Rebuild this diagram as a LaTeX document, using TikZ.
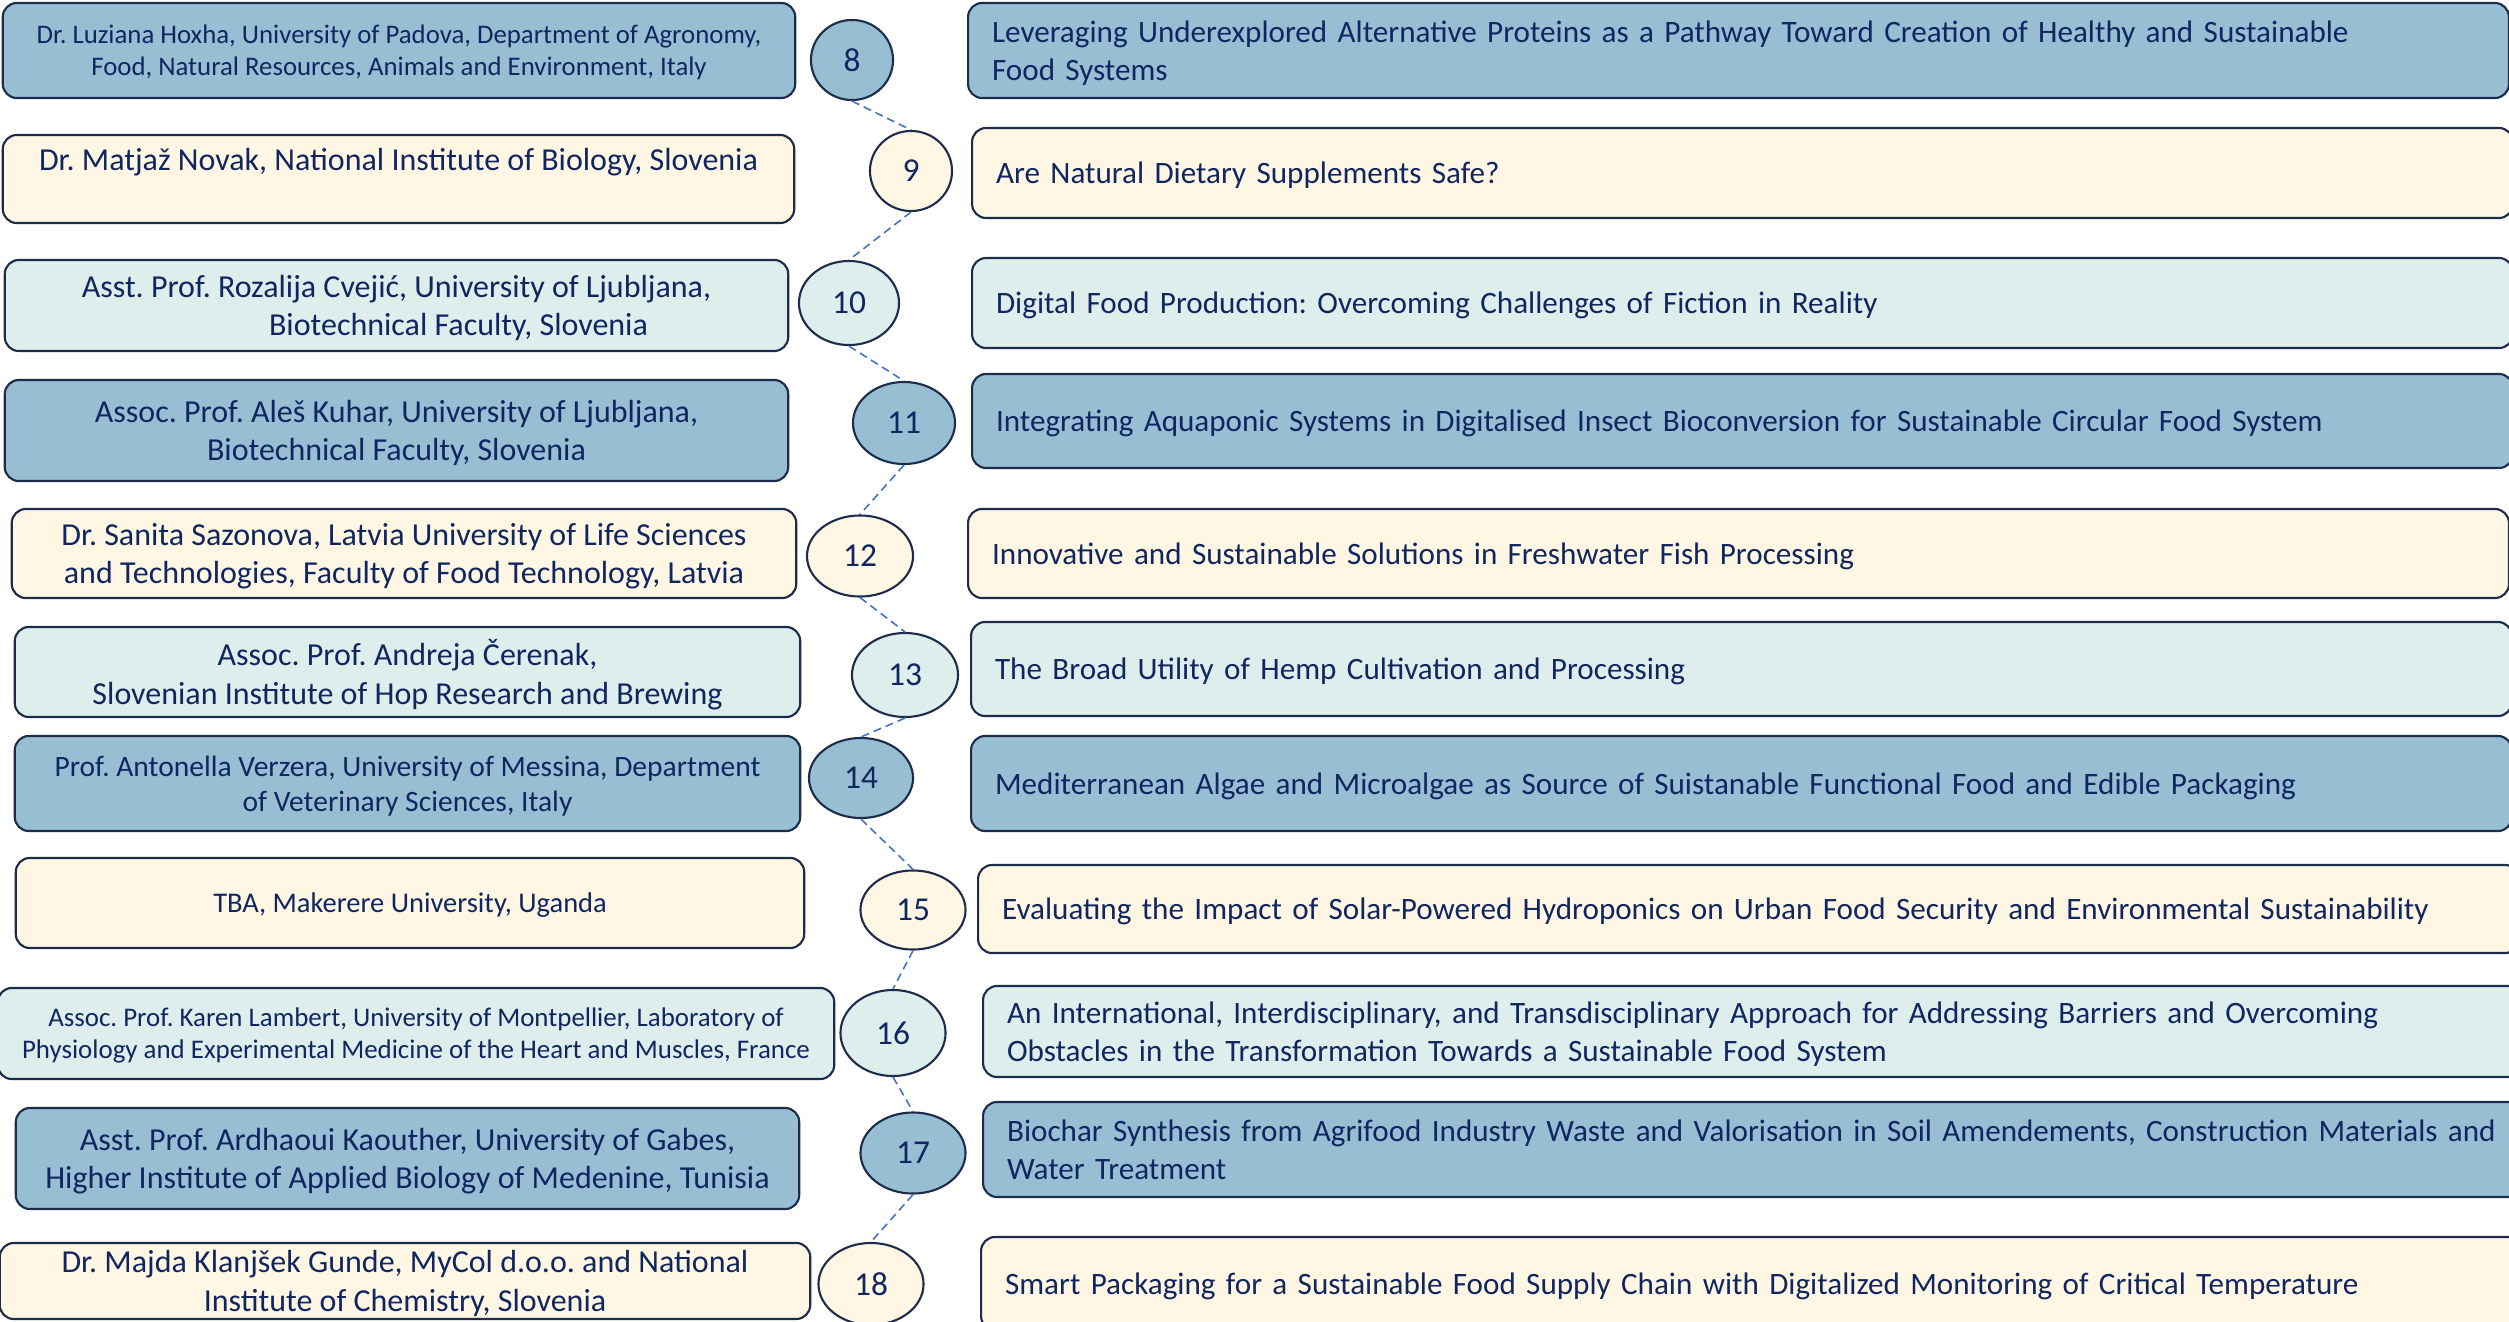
\documentclass[tikz,border=0pt]{standalone}
\usepackage{fontspec}
\setmainfont{Carlito}
\usetikzlibrary{shapes.geometric}
\frenchspacing

\definecolor{ink}{RGB}{16,38,96}
\definecolor{edge}{RGB}{30,44,76}
\definecolor{steel}{RGB}{151,190,211}
\definecolor{cream}{RGB}{255,247,228}
\definecolor{mint}{RGB}{222,238,236}
\definecolor{link}{RGB}{68,114,196}

\tikzset{
	wh/.style 2 args={minimum width=#1, minimum height=#2},
	speaker/.style={draw=edge, line width=0.6pt, rounded corners=4pt, text=ink, align=center, inner sep=0pt, text depth=0pt, font=\fontsize{9.1}{10.9}\selectfont},
	talk/.style={draw=edge, line width=0.6pt, rounded corners=4pt, text=ink, align=left, anchor=west, inner xsep=0.24cm, inner ysep=0pt, text depth=0pt, text width=14.92cm, minimum height=#1, font=\fontsize{8.85}{10.9}\selectfont},
	twolines/.style={text depth=10.9pt},
	slot/.style={ellipse, draw=edge, line width=0.6pt, text=ink, inner sep=0pt, font=\fontsize{9.5}{11}\selectfont},
	dots/.style={draw=link, line width=0.45pt, dash pattern=on 2.3pt off 1.4pt}
}

\begin{document}
\begin{tikzpicture}[x=0.01cm, y=-0.01cm]
	\fill[white] (0,0) rectangle (2509,1321);
	\useasboundingbox (0,0) rectangle (2509,1321);

	% speakers
	\node[speaker, fill=steel, wh={7.92cm}{0.95cm}, font=\fontsize{7.62}{9.1}\selectfont] (s8) at (399,50.5) {Dr. Luziana Hoxha, University of Padova, Department of Agronomy,\\Food, Natural Resources, Animals and Environment, Italy};
	\node[speaker, fill=cream, wh={7.91cm}{0.88cm}] (s9) at (398.5,179) {Dr. Matjaž Novak, National Institute of Biology, Slovenia\\\mbox{}};
	\node[speaker, fill=mint, wh={7.83cm}{0.91cm}] (s10) at (396.5,305.5) {Asst. Prof. Rozalija Cvejić, University of Ljubljana,\\\hspace*{1.24cm}Biotechnical Faculty, Slovenia};
	\node[speaker, fill=steel, wh={7.83cm}{1.01cm}] (s11) at (396.5,430.5) {Assoc. Prof. Aleš Kuhar, University of Ljubljana,\\Biotechnical Faculty, Slovenia};
	\node[speaker, fill=cream, wh={7.84cm}{0.89cm}] (s12) at (404,553.5) {Dr. Sanita Sazonova, Latvia University of Life Sciences\\and Technologies, Faculty of Food Technology, Latvia};
	\node[speaker, fill=mint, wh={7.85cm}{0.90cm}] (s13) at (407.5,672) {Assoc. Prof. Andreja Čerenak,\\Slovenian Institute of Hop Research and Brewing};
	\node[speaker, fill=steel, wh={7.85cm}{0.95cm}, font=\fontsize{8.4}{10}\selectfont] (s14) at (407.5,783.5) {Prof. Antonella Verzera, University of Messina, Department\\of Veterinary Sciences, Italy};
	\node[speaker, fill=cream, wh={7.88cm}{0.90cm}, font=\fontsize{8.1}{10}\selectfont] (s15) at (410,903) {TBA, Makerere University, Uganda};
	\node[speaker, fill=mint, wh={8.36cm}{0.91cm}, font=\fontsize{7.65}{9.1}\selectfont] (s16) at (416,1033.5) {Assoc. Prof. Karen Lambert, University of Montpellier, Laboratory of\\Physiology and Experimental Medicine of the Heart and Muscles, France};
	\node[speaker, fill=steel, wh={7.83cm}{1.01cm}] (s17) at (407.5,1158.5) {Asst. Prof. Ardhaoui Kaouther, University of Gabes,\\Higher Institute of Applied Biology of Medenine, Tunisia};
	\node[speaker, fill=cream, wh={8.10cm}{0.76cm}] (s18) at (405,1281) {Dr. Majda Klanjšek Gunde, MyCol d.o.o. and National\\Institute of Chemistry, Slovenia};

	% slot numbers
	\node[slot, fill=steel, wh={0.82cm}{0.80cm}] (n8) at (852,60) {8};
	\node[slot, fill=cream, wh={0.82cm}{0.80cm}] (n9) at (911,171) {9};
	\node[slot, fill=mint, wh={1.00cm}{0.84cm}] (n10) at (849,303) {10};
	\node[slot, fill=steel, wh={1.02cm}{0.82cm}] (n11) at (904,423) {11};
	\node[slot, fill=cream, wh={1.06cm}{0.81cm}] (n12) at (860,556) {12};
	\node[slot, fill=mint, wh={1.06cm}{0.84cm}] (n13) at (905,675) {13};
	\node[slot, fill=steel, wh={1.04cm}{0.80cm}] (n14) at (861,778) {14};
	\node[slot, fill=cream, wh={1.05cm}{0.79cm}] (n15) at (913,910) {15};
	\node[slot, fill=mint, wh={1.05cm}{0.86cm}] (n16) at (893,1033) {16};
	\node[slot, fill=steel, wh={1.05cm}{0.81cm}] (n17) at (913,1153) {17};
	\node[slot, fill=cream, wh={1.05cm}{0.82cm}] (n18) at (871,1284) {18};

	% talks
	\node[talk=0.95cm, twolines, fill=steel] (t8) at (967,50.5) {Leveraging Underexplored Alternative Proteins as a Pathway Toward Creation of Healthy and Sustainable\\Food Systems};
	\node[talk=0.90cm, fill=cream] (t9) at (971,173) {Are Natural Dietary Supplements Safe?};
	\node[talk=0.90cm, fill=mint] (t10) at (971,303) {Digital Food Production: Overcoming Challenges of Fiction in Reality};
	\node[talk=0.94cm, fill=steel] (t11) at (971,421) {Integrating Aquaponic Systems in Digitalised Insect Bioconversion for Sustainable Circular Food System};
	\node[talk=0.89cm, fill=cream] (t12) at (967,553.5) {Innovative and Sustainable Solutions in Freshwater Fish Processing};
	\node[talk=0.94cm, fill=mint] (t13) at (970,669) {The Broad Utility of Hemp Cultivation and Processing};
	\node[talk=0.95cm, fill=steel] (t14) at (970,783.5) {Mediterranean Algae and Microalgae as Source of Suistanable Functional Food and Edible Packaging};
	\node[talk=0.88cm, fill=cream] (t15) at (977,909) {Evaluating the Impact of Solar-Powered Hydroponics on Urban Food Security and Environmental Sustainability};
	\node[talk=0.91cm, twolines, fill=mint, text width=15.4cm] (t16) at (982,1031.5) {An International, Interdisciplinary, and Transdisciplinary Approach for Addressing Barriers and Overcoming\\Obstacles in the Transformation Towards a Sustainable Food System};
	\node[talk=0.95cm, twolines, fill=steel, text width=15.4cm] (t17) at (982,1149.5) {Biochar Synthesis from Agrifood Industry Waste and Valorisation in Soil Amendements, Construction Materials and\\Water Treatment};
	\node[talk=0.93cm, fill=cream] (t18) at (980,1283.5) {Smart Packaging for a Sustainable Food Supply Chain with Digitalized Monitoring of Critical Temperature};

	\foreach \a/\b in {8/9, 9/10, 10/11, 11/12, 12/13, 13/14, 14/15, 15/16, 16/17, 17/18}
	\draw[dots] (n\a.south) -- (n\b.north);
\end{tikzpicture}
\end{document}
